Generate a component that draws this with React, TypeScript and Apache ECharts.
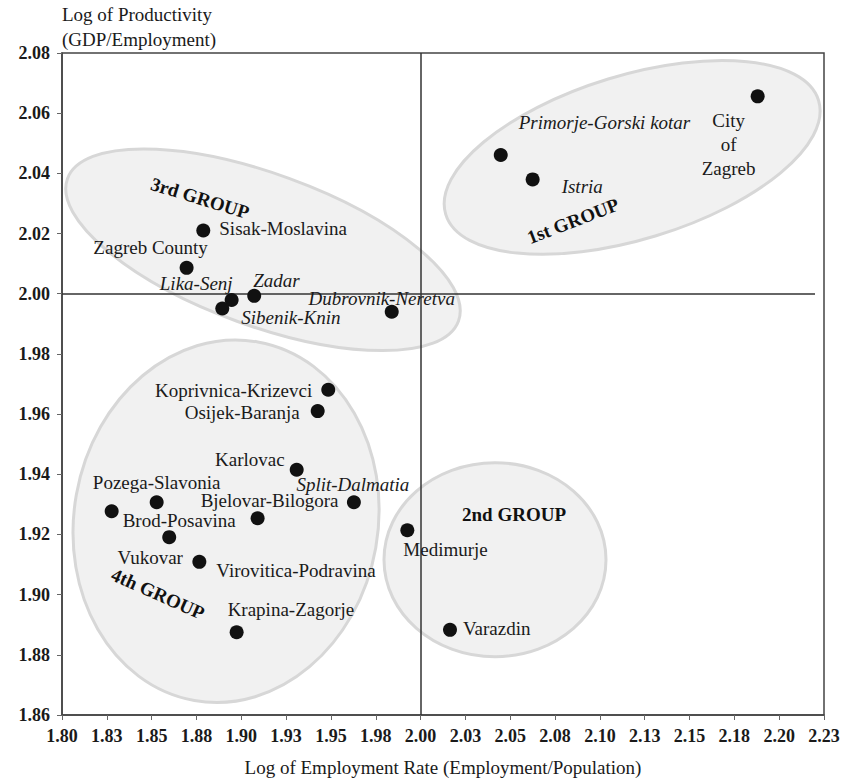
import React, { useEffect, useRef } from "react";
import * as echarts from "echarts";

// ---------- data ----------
const counties = [
  "City of Zagreb",
  "Primorje-Gorski kotar",
  "Istria",
  "Sisak-Moslavina",
  "Zagreb County",
  "Lika-Senj",
  "Sibenik-Knin",
  "Zadar",
  "Dubrovnik-Neretva",
  "Koprivnica-Krizevci",
  "Osijek-Baranja",
  "Karlovac",
  "Split-Dalmatia",
  "Pozega-Slavonia",
  "Brod-Posavina",
  "Bjelovar-Bilogora",
  "Vukovar",
  "Virovitica-Podravina",
  "Krapina-Zagorje",
  "Medimurje",
  "Varazdin",
];
// Log of Employment Rate (Employment/Population)
const employmentLog = [
  2.188, 2.0447, 2.0625, 1.8788, 1.8695, 1.8946, 1.8894, 1.9072, 1.9839,
  1.9485, 1.9426, 1.9309, 1.9628, 1.8528, 1.8277, 1.9091, 1.8598, 1.8766,
  1.8974, 1.9926, 2.0164,
];
// Log of Productivity (GDP/Employment)
const productivityLog = [
  2.0656, 2.0461, 2.038, 2.021, 2.0086, 1.9979, 1.9951, 1.9993, 1.994,
  1.9681, 1.961, 1.9415, 1.9307, 1.9307, 1.9277, 1.9254, 1.9191, 1.9109,
  1.8875, 1.9214, 1.8883,
];
const italicCounties = [
  "Primorje-Gorski kotar",
  "Istria",
  "Lika-Senj",
  "Sibenik-Knin",
  "Zadar",
  "Dubrovnik-Neretva",
  "Split-Dalmatia",
];

const xTickLabels = [
  "1.80", "1.83", "1.85", "1.88", "1.90", "1.93", "1.95", "1.98", "2.00",
  "2.03", "2.05", "2.08", "2.10", "2.13", "2.15", "2.18", "2.20", "2.23",
];
const yTickLabels = [
  "1.86", "1.88", "1.90", "1.92", "1.94", "1.96", "1.98", "2.00", "2.02",
  "2.04", "2.06", "2.08",
];

const groupNames = ["1st GROUP", "2nd GROUP", "3rd GROUP", "4th GROUP"];
const groupEllipseX = [2.118, 2.0415, 1.9121, 1.8915];
const groupEllipseY = [2.0453, 1.9116, 2.0146, 1.9244];
const groupLabelX = [2.085, 2.0521, 1.877, 1.8535];
const groupLabelY = [2.0242, 1.9267, 2.0318, 1.9003];

// ---------- layout / style (not data) ----------
const SYMBOL = 14;
const ellipseShapes = [
  { rx: 195, ry: 82, rot: 17 },
  { rx: 111, ry: 97, rot: 0 },
  { rx: 208, ry: 76, rot: -20 },
  { rx: 152, ry: 182, rot: -10 },
];
const groupLabelRot = [21, 0, -17, -24];

type LL = { align: string; dx: number; dy: number; va?: string; text?: string };
const labelLayout: Record<string, LL> = {
  "City of Zagreb": { align: "center", dx: -29, dy: 12, va: "top", text: "City\nof\nZagreb" },
  "Primorje-Gorski kotar": { align: "left", dx: 18, dy: -33 },
  Istria: { align: "left", dx: 29, dy: 7 },
  "Sisak-Moslavina": { align: "left", dx: 16, dy: -2 },
  "Zagreb County": { align: "center", dx: -36, dy: -20 },
  "Lika-Senj": { align: "right", dx: 1, dy: -17 },
  Zadar: { align: "left", dx: -1, dy: -15 },
  "Sibenik-Knin": { align: "left", dx: 19, dy: 9 },
  "Dubrovnik-Neretva": { align: "center", dx: -10, dy: -13 },
  "Koprivnica-Krizevci": { align: "right", dx: -16, dy: 1 },
  "Osijek-Baranja": { align: "right", dx: -18, dy: 1 },
  Karlovac: { align: "right", dx: -12, dy: -10 },
  "Split-Dalmatia": { align: "center", dx: -1, dy: -18 },
  "Pozega-Slavonia": { align: "center", dx: 0, dy: -20 },
  "Bjelovar-Bilogora": { align: "center", dx: 12, dy: -18 },
  "Brod-Posavina": { align: "left", dx: 11, dy: 9 },
  Vukovar: { align: "center", dx: -19, dy: 20 },
  "Virovitica-Podravina": { align: "left", dx: 17, dy: 9 },
  "Krapina-Zagorje": { align: "left", dx: -9, dy: -23 },
  Medimurje: { align: "left", dx: -4, dy: 19 },
  Varazdin: { align: "left", dx: 13, dy: -1 },
};

const FONT = '"Liberation Serif", "Times New Roman", serif';
const TEXT = "#1a1a1a";

export default function App() {
  const ref = useRef<HTMLDivElement>(null);

  useEffect(() => {
    if (!ref.current) return;
    const chart = echarts.init(ref.current, undefined, { renderer: "svg" });

    const scatterData = counties.map((name, i) => {
      const l = labelLayout[name];
      return {
        name,
        value: [employmentLog[i], productivityLog[i]],
        label: {
          show: true,
          position: [SYMBOL / 2 + l.dx, SYMBOL / 2 + l.dy],
          formatter: l.text ?? name,
          align: l.align,
          verticalAlign: l.va ?? "middle",
          fontStyle: italicCounties.includes(name) ? "italic" : "normal",
          lineHeight: 24,
        },
      };
    });

    const option: any = {
      animation: false,
      backgroundColor: "#ffffff",
      grid: {
        left: 62,
        right: 19,
        top: 53,
        bottom: 63,
        show: true,
        borderColor: "#444",
        borderWidth: 1.5,
        backgroundColor: "transparent",
      },
      xAxis: {
        type: "value",
        min: 1.8,
        max: 2.225,
        interval: 0.025,
        name: "Log of Employment Rate (Employment/Population)",
        nameLocation: "middle",
        nameGap: 43,
        nameTextStyle: { fontFamily: FONT, fontSize: 19, color: TEXT },
        axisLine: { show: true, onZero: false, lineStyle: { color: "#444", width: 1.5 } },
        axisTick: { show: true, inside: false, length: 5, lineStyle: { color: "#666" } },
        axisLabel: {
          margin: 12,
          fontFamily: FONT,
          fontSize: 18,
          fontWeight: "bold",
          color: TEXT,
          formatter: (v: number) => xTickLabels[Math.round((v - 1.8) / 0.025)] ?? "",
        },
        splitLine: { show: false },
      },
      yAxis: {
        type: "value",
        min: 1.86,
        max: 2.08,
        interval: 0.02,
        name: "Log of Productivity\n(GDP/Employment)",
        nameLocation: "end",
        nameGap: 1,
        nameTextStyle: {
          fontFamily: FONT,
          fontSize: 19,
          color: TEXT,
          align: "left",
          verticalAlign: "bottom",
          lineHeight: 25,
        },
        axisLine: { show: true, onZero: false, lineStyle: { color: "#444", width: 1.5 } },
        axisTick: { show: true, inside: false, length: 5, lineStyle: { color: "#666" } },
        axisLabel: {
          margin: 12,
          fontFamily: FONT,
          fontSize: 18,
          fontWeight: "bold",
          color: TEXT,
          formatter: (v: number) => yTickLabels[Math.round((v - 1.86) / 0.02)] ?? "",
        },
        splitLine: { show: false },
      },
      series: [
        {
          type: "custom",
          name: "groups",
          silent: true,
          z: 1,
          encode: { x: 0, y: 1 },
          data: groupEllipseX.map((x, i) => [x, groupEllipseY[i]]),
          renderItem: (params: any, api: any) => {
            const i = params.dataIndex;
            const c = api.coord([api.value(0), api.value(1)]);
            const s = ellipseShapes[i];
            return {
              type: "ellipse",
              x: c[0],
              y: c[1],
              rotation: (s.rot * Math.PI) / 180,
              shape: { cx: 0, cy: 0, rx: s.rx, ry: s.ry },
              style: { fill: "#f1f1f1", stroke: "#d7d7d7", lineWidth: 3 },
            };
          },
          markLine: {
            silent: true,
            symbol: "none",
            z: 5,
            label: { show: false },
            lineStyle: { color: "#333", width: 1.5, type: "solid" },
            data: [
              [{ coord: [1.8, 2.0] }, { coord: [2.22, 2.0] }],
              [{ coord: [2.0, 1.86] }, { coord: [2.0, 2.08] }],
            ],
          },
        },
        {
          type: "custom",
          name: "groupLabels",
          silent: true,
          z: 4,
          encode: { x: 0, y: 1 },
          data: groupLabelX.map((x, i) => [x, groupLabelY[i]]),
          renderItem: (params: any, api: any) => {
            const i = params.dataIndex;
            const c = api.coord([api.value(0), api.value(1)]);
            return {
              type: "text",
              x: c[0],
              y: c[1],
              rotation: (groupLabelRot[i] * Math.PI) / 180,
              style: {
                text: groupNames[i],
                font: `bold 19px ${FONT}`,
                fill: "#111",
                align: "center",
                verticalAlign: "middle",
              },
            };
          },
        },
        {
          type: "scatter",
          name: "counties",
          z: 6,
          symbol: "circle",
          symbolSize: SYMBOL,
          itemStyle: { color: "#111", opacity: 1 },
          label: {
            show: true,
            fontFamily: FONT,
            fontSize: 19,
            color: TEXT,
          },
          labelLayout: { hideOverlap: false },
          data: scatterData,
        },
      ],
    };

    chart.setOption(option);
    return () => chart.dispose();
  }, []);

  return (
    <div
      ref={ref}
      style={{ position: "fixed", left: 0, top: 0, width: 843, height: 782, background: "#fff" }}
    />
  );
}
